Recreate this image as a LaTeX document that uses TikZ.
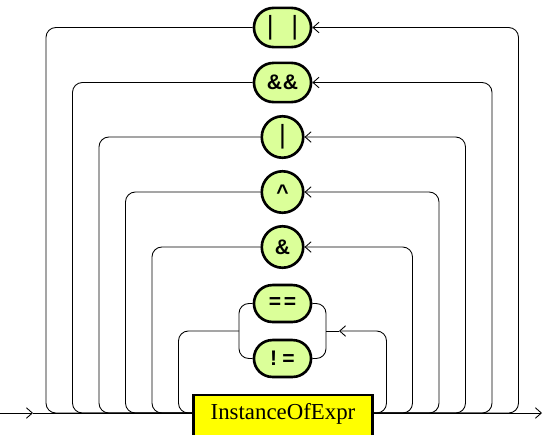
\documentclass[tikz,border=0pt]{standalone}
\usepackage{fontspec}
\setmainfont{Liberation Serif}
\newfontfamily\opfont{Liberation Sans}
\usetikzlibrary{arrows.meta,shapes.misc}
\definecolor{termGreen}{RGB}{219,255,153}
\definecolor{ntYellow}{RGB}{255,255,0}
\newcommand{\tallbar}{{\mdseries\fontsize{15}{15}\selectfont|}}

\begin{document}
\begin{tikzpicture}[x=0.02cm,y=-0.02cm,
  rail/.style={line width=0.5pt, rounded corners=5.6pt},
  tip/.style={-{Straight Barb[length=3.4pt,width=6pt]}},
  capsule/.style={rounded rectangle, draw, line width=1.5pt, fill=termGreen,
    minimum width=32.5pt, minimum height=22.3pt, inner sep=0pt,
    font=\opfont\bfseries\fontsize{12}{13}\selectfont},
  disc/.style={circle, draw, line width=1.5pt, fill=termGreen,
    minimum size=23.6pt, inner sep=0pt,
    font=\opfont\bfseries\fontsize{12}{13}\selectfont},
  nonterm/.style={rectangle, draw, line width=1.6pt, fill=ntYellow,
    minimum width=101.5pt, inner ysep=5.5pt, text height=8.6pt, text depth=10pt,
    font=\fontsize{13}{15}\selectfont}]
\useasboundingbox (0,0) rectangle (543,434);
\clip (0,0) rectangle (543,434);

% operators, top to bottom
\node[capsule] (oror) at (282.5,27.5) {\tallbar\hspace{10pt}\tallbar};
\node[capsule] (andand) at (282.5,82.5) {\&\hspace{0.5pt}\&};
\node[disc] (or) at (282.5,137) {\tallbar};
\node[disc] (xor) at (282.5,192) {\textasciicircum};
\node[disc] (and) at (282.5,247) {\&};
\node[capsule, minimum height=21pt] (eq) at (282.5,303.5) {=\hspace{1.5pt}=};
\node[capsule, minimum height=21pt] (ne) at (282.5,358.5) {!\hspace{3pt}=};
\node[nonterm, anchor=north] (expr) at (283,393.5) {InstanceOfExpr};

\coordinate (start) at (0,413);
\coordinate (enter) at (33,413);
\coordinate (finish) at (542,413);
\coordinate (split) at (239,331);
\coordinate (join) at (326,331);
\coordinate (back) at (339,331);

% main line
\draw[rail, tip] (start) -- (enter);
\draw[rail] (enter) -- (expr.west |- enter);
\draw[rail, tip] (expr.east |- enter) -- (finish);

% loops back through each operator
\foreach \op/\lx/\rx in {oror/46/518.5, andand/72.5/492, or/99/465.5, xor/125.5/439, and/152/412.5}{
  \draw[rail] (\op.west) -| (\lx,413) -- (expr.west |- enter);
  \draw[rail, tip] (expr.east |- enter) -- (\rx,413) |- (\op.east);
}

% == and != choice
\draw[rail] (eq.west) -| (split) |- (ne.west);
\draw[rail] (eq.east) -| (join) |- (ne.east);
\draw[rail] (split) -| (178.5,413) -- (expr.west |- enter);
\draw[rail, tip] (expr.east |- enter) -- (386.5,413) |- (back);
\draw[rail] (back) -- (join);
\end{tikzpicture}
\end{document}
